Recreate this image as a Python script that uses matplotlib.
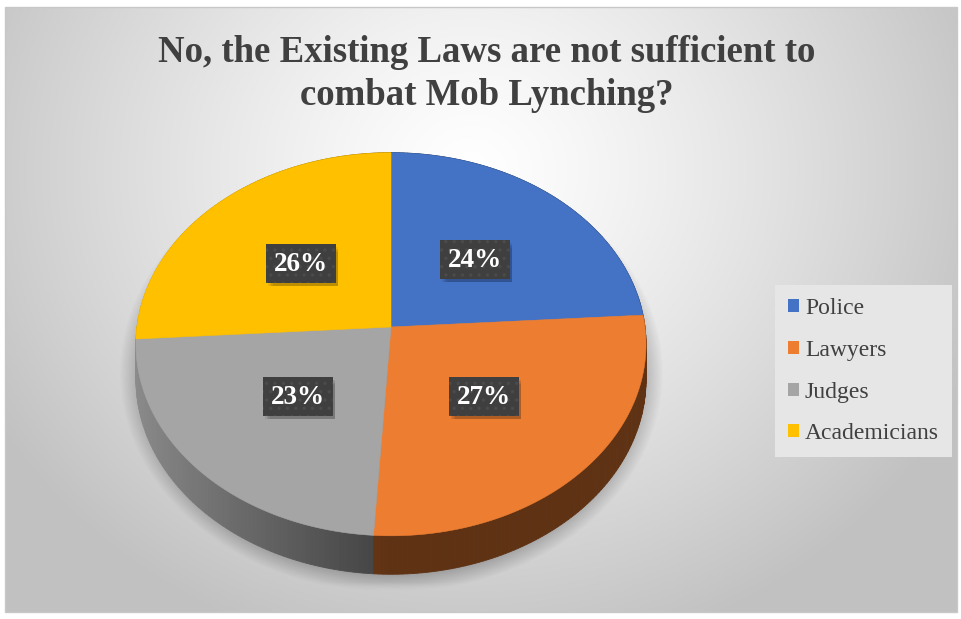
import matplotlib
matplotlib.use("Agg")
import matplotlib.pyplot as plt
import numpy as np
from matplotlib.patches import Polygon, Rectangle

groups = ["Police", "Lawyers", "Judges", "Academicians"]
shares = [24, 27, 23, 26]
colors = ["#4472c4", "#ed7d31", "#a5a5a5", "#ffc000"]
title = "No, the Existing Laws are not sufficient to\ncombat Mob Lynching?"

W, H = 962, 619
CX, CY = 391, 327        # pie centre on screen (px)
RX, RY = 254, 190        # radii of the top face
K = 0.09                 # perspective strength
DEPTH = 35               # thickness of the disc

plt.rcParams["font.family"] = ["Liberation Serif", "DejaVu Serif"]
plt.rcParams["hatch.linewidth"] = 1.2


def project(X, Y):
    w = 1 - K * Y
    return CX + RX * X / w, CY + RY * Y / w, w


def rim(t0, t1, n):
    t = np.linspace(t0, t1, n)
    return t, np.sin(t), -np.cos(t)


fig = plt.figure(figsize=(W / 100, H / 100), dpi=100)
ax = fig.add_axes([0, 0, 1, 1])
ax.set_xlim(0, W)
ax.set_ylim(H, 0)
ax.axis("off")

# background: light radial gradient inside a thin frame
yy, xx = np.mgrid[0:H, 0:W]
d = np.hypot((xx - 470) / 620.0, (yy - 170) / 560.0)
lum = np.clip(1.0 - 0.28 * d ** 1.25, 0.76, 1.0)
bg = np.ones((H, W, 3))
inside = (xx >= 6) & (xx <= 957) & (yy >= 7) & (yy <= 612)
bg[inside] = lum[inside][:, None]
ax.imshow(bg, extent=(0, W, H, 0), zorder=0, interpolation="bilinear")
ax.add_patch(Rectangle((5.5, 6.5), 952, 606, fill=False, ec="#c8c8c8", lw=1, zorder=1))

# soft shadow under the disc
sd = np.hypot((xx - 391) / 272.0, (yy - 372) / 220.0)
alpha = 0.38 * np.clip((1.0 - sd) / 0.13, 0, 1) * np.clip((592 - yy) / 10.0, 0, 1)
shadow = np.zeros((H, W, 4))
shadow[..., 3] = alpha * inside
ax.imshow(shadow, extent=(0, W, H, 0), zorder=1, interpolation="bilinear")

fracs = np.array(shares, dtype=float) / sum(shares)
edges = np.concatenate(([0.0], np.cumsum(fracs))) * 2 * np.pi


def shade(hexcol, factor):
    rgb = np.array(matplotlib.colors.to_rgb(hexcol))
    return tuple(rgb * factor)


# side wall in thin strips, sorted back to front so the near wall wins
strips = []
for col, t0, t1 in zip(colors, edges[:-1], edges[1:]):
    n = max(int(np.degrees(t1 - t0)), 2)
    t, X, Y = rim(t0, t1, n + 1)
    for i in range(n):
        xs, ys, ws = project(X[i:i + 2], Y[i:i + 2])
        f = 0.40 + 0.45 * max(0.0, -np.sin(t[i]))
        pts = [(xs[0], ys[0]), (xs[1], ys[1]),
               (xs[1], ys[1] + DEPTH / ws[1]), (xs[0], ys[0] + DEPTH / ws[0])]
        strips.append((Y[i:i + 2].mean(), pts, shade(col, f)))
for _, pts, c in sorted(strips, key=lambda s: s[0]):
    ax.add_patch(Polygon(pts, closed=True, fc=c, ec=c, lw=0.6, zorder=2))

# top faces
for col, t0, t1 in zip(colors, edges[:-1], edges[1:]):
    t, X, Y = rim(t0, t1, 200)
    xs, ys, _ = project(X, Y)
    pts = [(CX, CY)] + list(zip(xs, ys))
    ax.add_patch(Polygon(pts, closed=True, fc=col, ec=col, lw=0.4, zorder=3))

# percentage labels in dark boxes at mid-angle, half radius
for share, t0, t1 in zip(shares, edges[:-1], edges[1:]):
    tm = 0.5 * (t0 + t1)
    lx, ly, _ = project(0.5 * np.sin(tm), -0.5 * np.cos(tm))
    bw, bh = 70, 39
    for k, a in enumerate([0.07, 0.07, 0.07, 0.07]):
        g = 1.5 * k
        ax.add_patch(Rectangle((lx - bw / 2 + 2 + g, ly - bh / 2 + 3 + g),
                               bw - g, bh - g, fc="black", ec="none",
                               alpha=a, zorder=4))
    ax.add_patch(Rectangle((lx - bw / 2, ly - bh / 2), bw, bh, fc="#3f3f3f",
                           ec="#4b4b4b", lw=0, hatch="..", zorder=5))
    ax.text(lx, ly + 1, f"{share}%", color="white", fontsize=19.5,
            fontweight="bold", ha="center", va="center", zorder=6)

fig.text(487 / W, 1 - 74 / H, title, ha="center", va="center", fontsize=26.5,
         fontweight="bold", color="#404040", linespacing=1.32)

handles = [Rectangle((0, 0), 1, 1, fc=c, ec="none") for c in colors]
leg = fig.legend(handles, groups, loc="upper left",
                 bbox_to_anchor=(775 / W, 1 - 285 / H), frameon=True,
                 fancybox=False, fontsize=17, labelcolor="#404040",
                 handlelength=0.47, handleheight=0.47, handletextpad=0.25,
                 labelspacing=0.88, borderpad=0.55, borderaxespad=0)
leg.get_frame().set_facecolor("#e6e6e6")
leg.get_frame().set_edgecolor("none")
leg.get_frame().set_alpha(1)

fig.savefig("out.png", dpi=100)
